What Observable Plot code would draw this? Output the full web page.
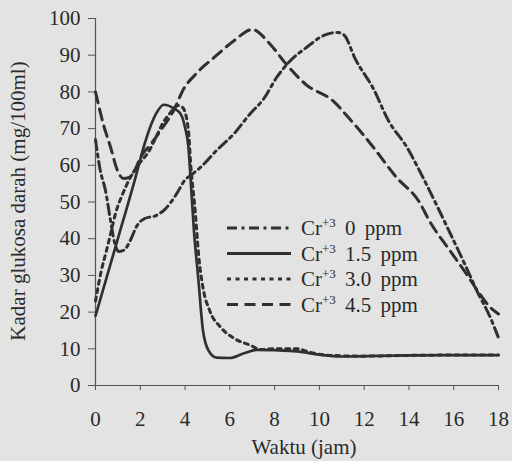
<!DOCTYPE html>
<html><head><meta charset="utf-8">
<script src="https://cdn.jsdelivr.net/npm/d3@7"></script>
<script src="https://cdn.jsdelivr.net/npm/@observablehq/plot@0.6"></script>
<style>
html,body{margin:0;padding:0;background:#e3e3e3;}
#wrap{position:relative;width:512px;height:461px;overflow:hidden;background:#e3e3e3;}
#wrap svg.leg{position:absolute;left:0;top:0;pointer-events:none;}
</style></head><body><div id="wrap"></div>
<script>
// ---- data ----
const dosis = ["0", "1.5", "3.0", "4.5"];

const jam0   = [0, 0.2, 0.45, 0.67, 0.85, 1.05, 1.3, 1.55, 1.85, 2.2, 2.7, 3.1, 3.6, 4.0, 4.3, 4.7, 5.4, 6.2, 6.9, 7.5, 8.1, 8.7, 9.4, 10.2, 10.8, 11.1, 11.6, 12.4, 13.1, 13.9, 14.6, 15.2, 15.8, 16.5, 17.1, 17.6, 18];
const kadar0 = [67, 59, 53, 45, 39, 36.5, 37, 39.5, 43.5, 45.5, 46.3, 48, 52, 56, 57.5, 59.5, 64, 68.7, 74, 78, 84, 88.5, 92, 95.4, 96.2, 95.5, 89, 81, 72, 65, 57, 49.6, 42, 33, 25, 19, 13];

const jam15   = [0, 1, 1.8, 2.2, 2.7, 3.05, 3.5, 3.8, 4.0, 4.15, 4.25, 4.4, 4.6, 4.8, 5.05, 5.4, 6.0, 6.6, 7.2, 8, 9.0, 10, 10.9, 12, 14, 16, 18];
const kadar15 = [19, 40, 57, 66, 74, 76.5, 75.5, 74, 70.3, 65, 56, 42, 28.6, 15, 9.5, 7.6, 7.5, 8.7, 9.7, 9.6, 9.3, 8.4, 7.9, 8, 8.2, 8.3, 8.3];

const jam30   = [0, 0.25, 0.5, 0.7, 0.9, 1.2, 1.5, 1.9, 2.4, 2.7, 3.0, 3.3, 3.7, 3.9, 4.15, 4.25, 4.46, 4.6, 4.8, 5.1, 5.6, 6.2, 6.9, 7.4, 8, 9, 9.6, 10.5, 12, 14, 16, 18];
const kadar30 = [23, 31, 37, 42, 47, 52, 56, 60, 64, 67.6, 71.4, 74, 76.3, 75.7, 69.5, 60.5, 47, 36, 26.7, 20.4, 15.8, 12.8, 11, 9.8, 10, 10, 9, 8.2, 8, 8.2, 8.3, 8.3];

const jam45   = [0, 0.36, 0.67, 0.98, 1.25, 1.5, 1.75, 2.0, 2.5, 3.0, 3.5, 3.9, 4.5, 5.3, 6.2, 7.0, 7.8, 8.5, 9.4, 10.6, 11.3, 12.4, 13.4, 14.5, 14.9, 15.8, 16.5, 17.1, 17.6, 18];
const kadar45 = [80, 71, 65, 58.6, 56.4, 56.7, 58.6, 62, 66, 70.3, 75, 80.4, 85, 89.4, 94, 97, 93, 87.7, 82, 77.6, 73, 65, 57, 49.6, 45, 37, 31, 25.5, 21.5, 19.5];

const xTicks = [0, 2, 4, 6, 8, 10, 12, 14, 16, 18];
const yTicks = [0, 10, 20, 30, 40, 50, 60, 70, 80, 90, 100];
const xTitle = "Waktu (jam)";
const yTitle = "Kadar glukosa darah (mg/100ml)";

// ---- build ----
const series = [
  {d: dosis[0], x: jam0, y: kadar0},
  {d: dosis[1], x: jam15, y: kadar15},
  {d: dosis[2], x: jam30, y: kadar30},
  {d: dosis[3], x: jam45, y: kadar45}
];
const dashes = {"0": "10,4.5,3,4.5", "1.5": null, "3.0": "4,4.5", "4.5": "11,6.5"};
const ink = "#303030";
const font = "'Liberation Serif', 'Times New Roman', serif";

const rows = [];
series.forEach(s => s.x.forEach((x, i) => rows.push({dosis: s.d, jam: x, kadar: s.y[i]})));

const lineMarks = dosis.map(d => Plot.line(rows.filter(r => r.dosis === d), {
  x: "jam", y: "kadar", curve: "monotone-x", stroke: ink,
  strokeWidth: d === "1.5" ? 2.7 : 3,
  strokeDasharray: dashes[d] || undefined
}));

const chart = Plot.plot({
  width: 512, height: 461,
  marginLeft: 95, marginRight: 14, marginTop: 18, marginBottom: 76,
  style: {background: "#e3e3e3", fontFamily: font, fontSize: "21px", color: "#2a2a2a"},
  x: {domain: [0, 18]},
  y: {domain: [0, 100]},
  marks: [
    Plot.ruleY([0], {stroke: "#555", strokeWidth: 1.2}),
    Plot.ruleX([0], {stroke: "#555", strokeWidth: 1.2}),
    Plot.axisX({ticks: xTicks, tickSize: 5, tickPadding: 21, label: null, stroke: "#555", fill: "#2a2a2a", fontSize: 21}),
    Plot.axisY({ticks: yTicks, tickSize: 7, tickPadding: 8, label: null, stroke: "#555", fill: "#2a2a2a", fontSize: 21}),
    ...lineMarks,
    Plot.text([xTitle], {frameAnchor: "bottom", textAnchor: "middle", lineAnchor: "middle", dx: 7, dy: 62, fontSize: 21, fill: "#2a2a2a", text: d => d}),
    Plot.text([yTitle], {frameAnchor: "left", textAnchor: "middle", lineAnchor: "middle", rotate: -90, dx: -77, dy: -1, fontSize: 21, fill: "#2a2a2a", text: d => d})
  ]
});
const wrap = document.getElementById("wrap");
wrap.appendChild(chart);

// legend overlay
const leg = d3.select(wrap).append("svg").attr("class", "leg").attr("width", 512).attr("height", 461);
const rowY = [228, 253.5, 279, 304.5];
dosis.forEach((d, i) => {
  const g = leg.append("g").attr("transform", `translate(0,${rowY[i]})`);
  g.append("line").attr("x1", 227).attr("x2", 291).attr("y1", 0).attr("y2", 0)
    .attr("stroke", ink).attr("stroke-width", 3)
    .attr("stroke-dasharray", dashes[d] || null);
  const t = g.append("text").attr("x", 301).attr("y", 7)
    .attr("font-family", font).attr("font-size", 21).attr("fill", "#2a2a2a")
    .attr("word-spacing", 4).attr("xml:space", "preserve");
  t.append("tspan").text("Cr");
  t.append("tspan").attr("font-size", 13).attr("dy", -8).text("+3");
  t.append("tspan").attr("dy", 8).text(" " + d + " ppm");
});
</script></body></html>
